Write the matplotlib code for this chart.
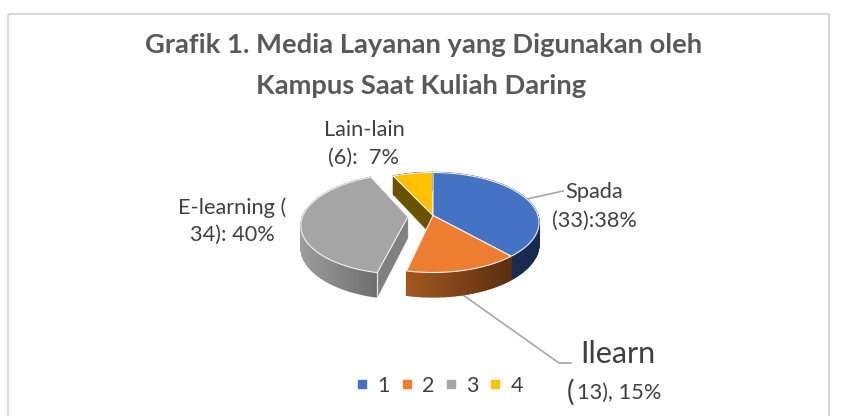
import numpy as np
import matplotlib
matplotlib.use("Agg")
import matplotlib.pyplot as plt
from matplotlib.lines import Line2D
from matplotlib.patches import Polygon, Rectangle
from matplotlib.colors import to_rgb

plt.rcParams['font.family'] = ['Lato', 'DejaVu Sans']

# --- data ---
categories = ['1', '2', '3', '4']
names = ['Spada', 'Ilearn', 'E-learning', 'Lain-lain']
counts = [33, 13, 34, 6]
explode = [0.0, 0.0, 0.24, 0.0]
top_colors = ['#4472C4', '#ED7D31', '#A5A5A5', '#FFC000']
wall_left = ['#1B3158', '#A2581F', '#9C9C9C', '#6B5200']
wall_right = ['#172A4C', '#5C2D12', '#6E6E6E', '#6B5200']

title_lines = ['Grafik 1. Media Layanan yang Digunakan oleh', 'Kampus Saat Kuliah Daring']
TXT = '#404040'

# projection of the tilted disc to pixel space
CX, CY, RX, RY, K, H = 433.0, 215.5, 105.0, 49.0, 0.14, 21.0

def project(x, y, z=0.0):
    w = 1 - K * y
    return CX + RX * x / w, CY + RY * y / w + z * H / w

fig = plt.figure(figsize=(8.45, 4.16), dpi=100, facecolor='white')
ax = fig.add_axes([0, 0, 1, 1])
ax.set_xlim(0, 845)
ax.set_ylim(416, 0)
ax.axis('off')

# chart frame
ax.add_patch(Rectangle((8.5, 14), 820.5, 420, fill=False, ec='#D9D9D9', lw=1.5, zorder=1))

# wedge angles, clockwise from 12 o'clock
fracs = np.array(counts, dtype=float) / sum(counts)
edges = np.concatenate([[0], np.cumsum(fracs)]) * 2 * np.pi

def wedge(i, n=60):
    t = np.linspace(edges[i], edges[i + 1], n)
    mid = (edges[i] + edges[i + 1]) / 2
    ox, oy = explode[i] * np.sin(mid), -explode[i] * np.cos(mid)
    return ox, oy, ox + np.sin(t), oy - np.cos(t)

def mix(a, b, f):
    a, b = np.array(to_rgb(a)), np.array(to_rgb(b))
    return tuple(a + (b - a) * f)

def draw_slice(i, z):
    ox, oy, xs, ys = wedge(i)
    # outer wall: strips shaded from left to right
    px, py = project(xs, ys)
    qx, qy = project(xs, ys, 1.0)
    lo, hi = px.min(), px.max()
    for j in range(len(xs) - 1):
        f = ((px[j] + px[j + 1]) / 2 - lo) / max(hi - lo, 1)
        col = mix(wall_left[i], wall_right[i], f)
        ax.add_patch(Polygon([(px[j], py[j]), (px[j + 1], py[j + 1]),
                              (qx[j + 1], qy[j + 1]), (qx[j], qy[j])],
                             fc=col, ec=col, lw=1.0, zorder=z))
    # cut faces
    ax_, ay_ = project(ox, oy)
    bx_, by_ = project(ox, oy, 1.0)
    if i == 3:   # leading cut of the yellow slice shows through the gap
        ax.add_patch(Polygon([(px[0], py[0]), (ax_, ay_), (bx_, by_), (qx[0], qy[0])],
                             fc=wall_left[i], ec=wall_left[i], lw=0.4, zorder=z))
    if i == 2:   # leading cut of the exploded slice
        ax.add_patch(Polygon([(px[0], py[0]), (ax_, ay_), (bx_, by_), (qx[0], qy[0])],
                             fc='#808080', ec='#808080', lw=0.4, zorder=z))
        ax.plot([px[0], qx[0]], [py[0], qy[0]], color='#E6E6E6', lw=0.9, zorder=z + 0.1)
    # top
    ax.add_patch(Polygon(np.column_stack([np.r_[ax_, px], np.r_[ay_, py]]),
                         fc=top_colors[i], ec='#F2F2F2', lw=0.8, joinstyle='round', zorder=z + 0.2))

for z, i in zip([2, 3, 4, 5], [3, 0, 1, 2]):
    draw_slice(i, z)

# leader lines
ax.plot([527, 563], [199, 191], color='#A6A6A6', lw=1.2, zorder=1.5)
ax.plot([463, 559, 571], [295, 363, 363], color='#A6A6A6', lw=1.2, zorder=1.5)

# title
ax.text(424, 53, title_lines[0], ha='center', va='baseline', fontsize=19.7, fontweight='bold', color='#595959')
ax.text(421, 94, title_lines[1], ha='center', va='baseline', fontsize=19.7, fontweight='bold', color='#595959')

# data labels
lab = dict(ha='center', va='center', color=TXT, fontsize=15.7)
ax.text(364, 130, 'Lain-lain', **lab)
ax.text(364, 158, '(6):  7%', **lab)
ax.text(232, 208, 'E-learning (', **lab)
ax.text(232, 235, '34): 40%', **lab)
ax.text(594, 192, 'Spada', **lab)
ax.text(594, 221, '(33):38%', **lab)
ax.text(618, 354, 'Ilearn', ha='center', va='center', color=TXT, fontsize=22)
ax.text(570.5, 392, '(', ha='center', va='center', color=TXT, fontsize=20)
ax.text(577, 393, '13), 15%', ha='left', va='center', color=TXT, fontsize=15.7)

# legend
handles = [Line2D([], [], ls='none', marker='s', ms=5.6, color=c) for c in top_colors]
ax.legend(handles, categories, loc='center', bbox_to_anchor=(440, 386),
          bbox_transform=ax.transData, ncols=4, frameon=False, fontsize=15.5,
          labelcolor=TXT, handlelength=0.5, handletextpad=0.45, columnspacing=0.53)

fig.savefig('out.png', dpi=100, facecolor='white')
